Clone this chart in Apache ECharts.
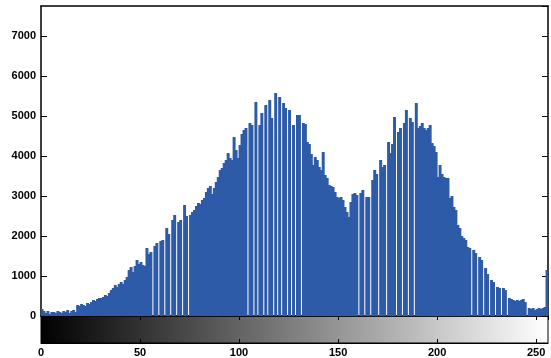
<!DOCTYPE html>
<html>
<head>
    <meta charset="utf-8">
    <title>imhist</title>
    <script src="https://cdn.jsdelivr.net/npm/echarts@6/dist/echarts.min.js"></script>
    <style>
        html,body{
            height:100%;
            width:100%;
            margin:0;
            padding:0;
            background:#fff;
        }
        #chart{
            width:551px;
            height:358px;
        }
    </style>
</head>
<body>
<div id="chart"></div>
<script>
    // 灰度级 0..255
    var bins = [];
    for (var i = 0; i < 256; i++) { bins.push(String(i)); }

    // 每个灰度级的像素数
    var counts = [
        175, 125, 75, 125, 50, 100, 100, 75, 125, 100,
        75, 125, 100, 150, 75, 125, 150, 100, 275, 250,
        300, 275, 250, 325, 300, 350, 400, 375, 425, 450,
        450, 475, 525, 500, 575, 650, 700, 775, 725, 800,
        850, 800, 900, 975, 1150, 1225, 1100, 1250, 1400, 1300,
        1350, 1275, 1250, 1700, 1550, 1600, 0, 1750, 1825, 0,
        1875, 1900, 0, 2200, 2050, 0, 2400, 2525, 0, 2350,
        2400, 0, 2775, 2500, 0, 2525, 2600, 2650, 2750, 2825,
        2800, 2900, 2950, 3100, 3200, 3250, 3050, 3200, 3350, 3475,
        3650, 3700, 3825, 3900, 4075, 3950, 3900, 4475, 4150, 3950,
        4275, 4550, 4650, 4700, 0, 4825, 4775, 0, 5350, 0,
        4775, 5075, 0, 5275, 0, 5400, 4950, 0, 5575, 0,
        5475, 0, 5325, 5200, 0, 5150, 0, 4775, 0, 5025,
        5025, 0, 4825, 4800, 4350, 4300, 4050, 3775, 3975, 3900,
        3725, 3650, 4100, 3525, 3450, 3275, 3250, 3225, 3100, 2975,
        2950, 2975, 2900, 2725, 2600, 2475, 2850, 3050, 3075, 3025,
        0, 3075, 3150, 0, 2975, 2975, 0, 3400, 3650, 3550,
        0, 3900, 3725, 3775, 0, 4350, 4075, 4300, 4975, 0,
        4600, 4700, 0, 4825, 5150, 0, 4950, 4850, 0, 5325,
        4700, 4750, 4825, 4700, 4650, 4700, 4775, 4325, 4250, 4100,
        3475, 3775, 3550, 3475, 3450, 3450, 2950, 3000, 2725, 2650,
        2275, 2200, 2000, 1950, 1900, 1725, 1700, 0, 1650, 1575,
        0, 1475, 1400, 0, 1200, 1050, 0, 900, 850, 0,
        725, 700, 0, 700, 650, 0, 450, 425, 400, 375,
        400, 375, 400, 425, 350, 0, 200, 175, 200, 150,
        175, 200, 175, 200, 225, 1150
    ];

    // 刻度
    var yTicks = [0, 1000, 2000, 3000, 4000, 5000, 6000, 7000];
    var xTicks = [0, 50, 100, 150, 200, 250];

    var myChart = echarts.init(document.getElementById('chart'));

    var labelFont = {
        color:'#000',
        fontFamily:'Liberation Sans',
        fontWeight:'bold',
        fontSize:11
    };
    var every50 = function (idx) { return idx % 50 === 0; };

    var option = {
        animation:false,
        grid:[
            {left:41, right:3, top:6, bottom:42},
            {
                left:41, right:3, top:316, height:27,
                show:true,
                borderColor:'#000',
                borderWidth:1,
                backgroundColor:{
                    type:'linear', x:0, y:0, x2:1, y2:0,
                    colorStops:[
                        {offset:0, color:'#000000'},
                        {offset:1, color:'#ffffff'}
                    ]
                }
            }
        ],
        xAxis:[
            {
                type:'category', gridIndex:0, data:bins, position:'bottom',
                axisLine:{onZero:false, lineStyle:{color:'#000', width:1.5}},
                axisTick:{inside:true, length:5, interval:every50, alignWithLabel:true, lineStyle:{color:'#000'}},
                axisLabel:{show:false}
            },
            {
                type:'category', gridIndex:0, data:bins, position:'top',
                axisLine:{onZero:false, lineStyle:{color:'#000', width:1.5}},
                axisTick:{inside:true, length:5, interval:every50, alignWithLabel:true, lineStyle:{color:'#000'}},
                axisLabel:{show:false}
            },
            {
                type:'value', gridIndex:1, min:0, max:256, interval:50,
                axisLine:{onZero:false, lineStyle:{color:'#000', width:1}},
                axisTick:{inside:true, length:4, lineStyle:{color:'#000'}},
                splitLine:{show:false},
                axisLabel:Object.assign({margin:4, showMaxLabel:false,
                    formatter:function (v) { return xTicks.indexOf(v) >= 0 ? String(v) : ''; }}, labelFont)
            },
            {
                type:'value', gridIndex:1, min:0, max:256, interval:50, position:'top',
                axisLine:{show:false, onZero:false},
                axisTick:{inside:true, length:4, lineStyle:{color:'#000'}},
                splitLine:{show:false},
                axisLabel:{show:false}
            }
        ],
        yAxis:[
            {
                type:'value', gridIndex:0, min:0, max:7750, interval:1000, position:'left',
                axisLine:{show:true, onZero:false, lineStyle:{color:'#000', width:1.5}},
                axisTick:{show:true, inside:true, length:6, lineStyle:{color:'#000'}},
                splitLine:{show:false},
                axisLabel:Object.assign({margin:5, showMaxLabel:false,
                    formatter:function (v) { return yTicks.indexOf(v) >= 0 ? String(v) : ''; }}, labelFont)
            },
            {
                type:'value', gridIndex:0, min:0, max:7750, interval:1000, position:'right',
                axisLine:{show:true, onZero:false, lineStyle:{color:'#000', width:1.5}},
                axisTick:{show:true, inside:true, length:6, lineStyle:{color:'#000'}},
                splitLine:{show:false},
                axisLabel:{show:false}
            },
            {
                type:'value', gridIndex:1, min:0, max:1,
                axisLine:{show:false}, axisTick:{show:false},
                axisLabel:{show:false}, splitLine:{show:false}
            }
        ],
        series:[
            {
                name:'counts',
                type:'bar',
                xAxisIndex:0,
                yAxisIndex:0,
                data:counts,
                barWidth:'150%',
                itemStyle:{color:'#2e5ba8'}
            }
        ]
    };
    myChart.setOption(option);
</script>
</body>
</html>
